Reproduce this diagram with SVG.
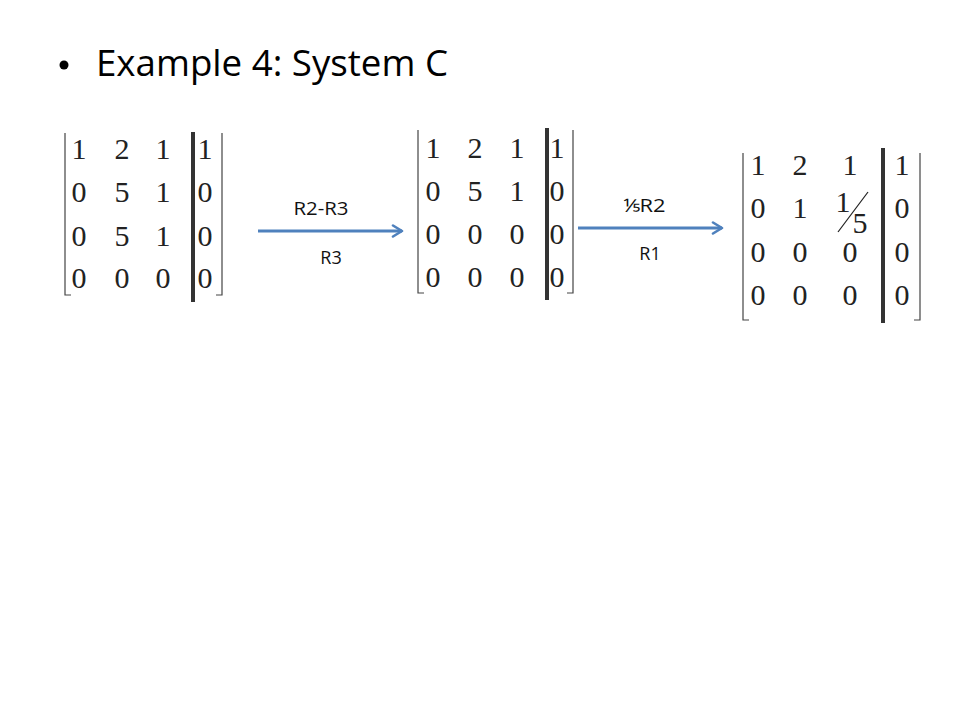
<svg xmlns="http://www.w3.org/2000/svg" width="960" height="720" viewBox="0 0 960 720">
<defs>
<style>
.d{font-family:"Liberation Serif","Times New Roman",serif;font-size:30px;fill:#222;text-anchor:middle}
.br{fill:none;stroke:#444;stroke-width:1.2}
.bar{stroke:#333;stroke-width:4}
.lbl{font-family:"Open Sans","Liberation Sans",sans-serif;font-size:18px;fill:#111;text-anchor:middle}
.arr{stroke:#4F81BD;stroke-width:3;fill:none}
</style>
<marker id="ah" markerUnits="userSpaceOnUse" markerWidth="14" markerHeight="14" refX="11" refY="7" orient="auto">
<path d="M2,1.5 L11,7 L2,12.5" fill="none" stroke="#4F81BD" stroke-width="2.6" stroke-linecap="round" stroke-linejoin="round"/>
</marker>
</defs>
<rect width="960" height="720" fill="#fff"/>
<g id="title">
<circle cx="64" cy="65" r="4.5" fill="#000"/>
<text x="96" y="76" font-family="Open Sans, Liberation Sans, sans-serif" font-size="36" fill="#000" textLength="352" lengthAdjust="spacingAndGlyphs">Example 4: System C</text>
</g>
<g id="matrix1">
<path class="br" d="M65,133 V295 H71"/>
<path class="br" d="M222,133 V295 H216"/>
<line class="bar" x1="193" y1="132" x2="193" y2="302"/>
<text class="d" x="79" y="159">1</text><text class="d" x="122" y="159">2</text><text class="d" x="163" y="159">1</text><text class="d" x="205" y="159">1</text>
<text class="d" x="79" y="202">0</text><text class="d" x="122" y="202">5</text><text class="d" x="163" y="202">1</text><text class="d" x="205" y="202">0</text>
<text class="d" x="79" y="246">0</text><text class="d" x="122" y="246">5</text><text class="d" x="163" y="246">1</text><text class="d" x="205" y="246">0</text>
<text class="d" x="79" y="288">0</text><text class="d" x="122" y="288">0</text><text class="d" x="163" y="288">0</text><text class="d" x="205" y="288">0</text>
</g>
<g id="matrix2">
<path class="br" d="M418,130 V293 H424"/>
<path class="br" d="M573,130 V293 H567"/>
<line class="bar" x1="547" y1="128" x2="547" y2="300"/>
<text class="d" x="433" y="158">1</text><text class="d" x="475" y="158">2</text><text class="d" x="517" y="158">1</text><text class="d" x="557" y="158">1</text>
<text class="d" x="433" y="201">0</text><text class="d" x="475" y="201">5</text><text class="d" x="517" y="201">1</text><text class="d" x="557" y="201">0</text>
<text class="d" x="433" y="244">0</text><text class="d" x="475" y="244">0</text><text class="d" x="517" y="244">0</text><text class="d" x="557" y="244">0</text>
<text class="d" x="433" y="287">0</text><text class="d" x="475" y="287">0</text><text class="d" x="517" y="287">0</text><text class="d" x="557" y="287">0</text>
</g>
<g id="matrix3">
<path class="br" d="M743,153 V320 H749"/>
<path class="br" d="M920,153 V320 H914"/>
<line class="bar" x1="883" y1="148" x2="883" y2="323"/>
<text class="d" x="758" y="175">1</text><text class="d" x="800" y="175">2</text><text class="d" x="850" y="175">1</text><text class="d" x="902" y="175">1</text>
<text class="d" x="758" y="218">0</text><text class="d" x="800" y="218">1</text><text class="d" x="902" y="218">0</text>
<text class="d" x="843" y="212">1</text>
<line x1="838" y1="232" x2="868" y2="192" stroke="#222" stroke-width="1.2"/>
<text class="d" x="860" y="233">5</text>
<text class="d" x="758" y="262">0</text><text class="d" x="800" y="262">0</text><text class="d" x="850" y="262">0</text><text class="d" x="902" y="262">0</text>
<text class="d" x="758" y="305">0</text><text class="d" x="800" y="305">0</text><text class="d" x="850" y="305">0</text><text class="d" x="902" y="305">0</text>
</g>
<g id="connectors">
<line class="arr" x1="258" y1="231" x2="402" y2="231" marker-end="url(#ah)"/>
<line class="arr" x1="578" y1="228" x2="722" y2="228" marker-end="url(#ah)"/>
</g>
<g id="labels">
<text class="lbl" x="321" y="215" textLength="55" lengthAdjust="spacingAndGlyphs">R2-R3</text>
<text class="lbl" x="331" y="264">R3</text>
<text class="lbl" x="644" y="212" textLength="43" lengthAdjust="spacingAndGlyphs">⅕R2</text>
<text class="lbl" x="650" y="260">R1</text>
</g>
</svg>
